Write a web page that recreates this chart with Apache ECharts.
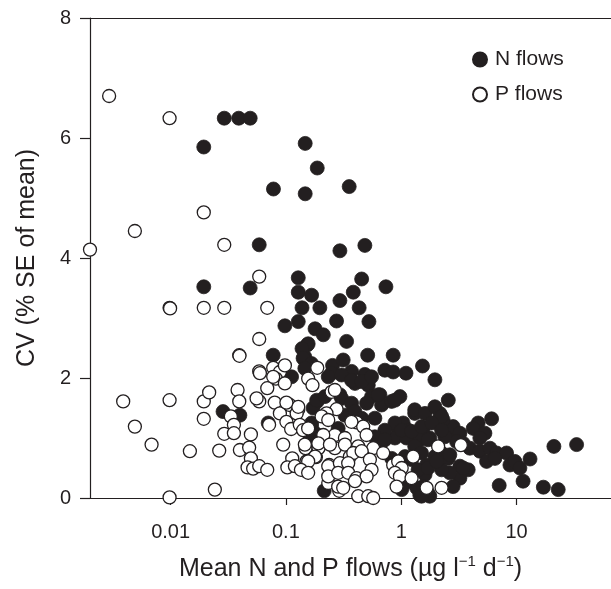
<!DOCTYPE html>
<html><head><meta charset="utf-8">
<script src="https://cdn.jsdelivr.net/npm/echarts@6/dist/echarts.min.js"></script>
<style>html,body{margin:0;padding:0;background:#fff}#c{width:611px;height:589px}</style>
</head><body><div id="c"></div>
<script>
const xTickValues = [0.01, 0.1, 1, 10];
const yTickValues = [0, 2, 4, 6, 8];
const seriesNames = ['N flows', 'P flows'];
const xAxisTitle = 'Mean N and P flows (µg l{sup|−1} d{sup|−1})';
const yAxisTitle = 'CV (% SE of mean)';

// [mean flow, CV]
const nFlows = [
[0.0194,5.85],[0.0292,6.33],[0.039,6.33],[0.049,6.33],[0.147,5.91],[0.187,5.50],[0.078,5.15],[0.147,5.07],[0.0587,4.22],[0.294,4.12],[0.354,5.19],[0.484,4.21],
[0.0194,3.52],[0.049,3.50],[0.128,3.67],[0.128,3.43],[0.167,3.38],[0.197,3.17],[0.138,3.17],[0.294,3.29],[0.275,2.95],[0.098,2.87],[0.128,2.94],[0.179,2.82],[0.211,2.72],[0.153,2.55],[0.146,2.35],[0.0776,2.38],[0.254,2.21],[0.187,1.61],[0.172,1.50],[0.0285,1.44],[0.0399,1.38],[0.0702,1.25],[0.167,1.19],[0.215,0.12],
[0.454,3.65],[0.737,3.52],[0.384,3.43],[0.432,3.17],[0.525,2.94],[0.336,2.61],[0.156,2.57],[0.138,2.49],[0.512,2.38],[0.141,2.33],[0.167,2.24],[0.146,2.16],[0.314,2.30],[0.371,2.11],[0.249,2.08],[0.852,2.38],[0.722,2.13],[0.852,2.10],[0.484,2.06],[1.10,2.08],[1.53,2.20],[1.96,1.97],
[0.397,1.91],[0.518,1.88],[0.294,1.72],[0.553,1.69],[0.654,1.72],[0.676,1.55],[0.826,1.61],[0.975,1.69],[2.56,1.63],[1.31,1.41],[2.17,1.41],[2.03,1.27],[6.08,1.32],[4.65,1.25],[4.21,1.16],[5.32,1.08],[0.912,1.19],[1.04,1.25],[1.15,1.13],[0.882,1.00],[1.11,1.00],[1.55,1.16],[1.45,0.97],[1.77,1.00],[2.56,1.08],[2.82,1.19],[3.23,1.08],[3.02,0.94],[3.45,0.91],[3.94,0.83],[4.81,0.78],[5.88,0.83],[6.72,0.75],[5.50,0.61],[8.20,0.75],[8.77,0.55],[9.68,0.61],[10.7,0.50],[13.1,0.65],[11.4,0.28],[7.08,0.21],[17.1,0.18],[23.0,0.14],[21.1,0.86],[33.2,0.89],[1.66,0.55],[1.61,0.39],[1.45,0.05],[1.77,0.03],[1.01,0.14],[2.31,1.30],[2.39,1.02],[2.56,0.66],[3.23,0.53],[3.81,0.47],[3.23,0.33],[2.64,0.42],[2.82,0.19],[6.50,0.66],
[0.233,2.02],[0.304,2.05],[0.371,1.96],[0.454,1.94],[0.553,2.02],[0.185,1.63],[0.218,1.69],[0.304,1.66],[0.371,1.58],[0.501,1.58],[0.632,1.72],[0.882,1.63],[1.31,1.47],[1.61,1.41],[1.96,1.52],[2.24,1.36],[0.325,1.38],[0.397,1.44],[0.454,1.33],[0.591,1.33],[0.167,1.25],[0.179,1.08],[0.161,0.97],[0.284,1.16],[0.882,1.25],[1.01,1.13],[1.23,1.11],[1.50,1.19],[1.84,1.25],[0.722,1.13],[0.591,1.02],[2.24,1.13],[2.24,0.75],[1.71,0.97],[1.96,0.69],[1.31,0.86],[1.50,0.75],[1.23,0.64],[0.826,0.66],[1.08,0.69],[1.40,0.47],[1.71,0.50],[2.24,0.47],[1.36,0.17],[1.55,0.19],[1.71,0.08],[1.50,0.03],[1.08,0.25],[0.654,0.86],[0.722,0.97],[0.112,2.02],[2.03,0.61],[2.64,0.72],[3.45,0.50],[4.81,1.00]
];

const pFlows = [
[0.00293,6.70],[0.0098,6.33],[0.0194,4.76],[0.0049,4.45],[0.002,4.14],[0.0292,4.22],[0.0587,3.69],[0.0098,3.17],[0.0099,3.16],[0.0194,3.17],[0.0292,3.17],[0.0689,3.17],[0.0587,2.65],[0.0394,2.38],[0.0396,2.37],[0.0587,2.11],[0.0776,2.17],[0.0887,2.10],[0.098,2.21],[0.0818,1.99],[0.098,1.91],[0.187,2.17],[0.156,1.99],[0.170,1.88],[0.249,1.77],
[0.00388,1.61],[0.0098,1.63],[0.0194,1.61],[0.0216,1.76],[0.0194,1.32],[0.0381,1.80],[0.0394,1.61],[0.0333,1.36],[0.0354,1.22],[0.0587,1.61],[0.0689,1.83],[0.080,1.59],[0.0887,1.41],[0.108,1.55],[0.128,1.47],[0.101,1.27],[0.111,1.15],[0.0715,1.22],
[0.0049,1.19],[0.00684,0.89],[0.0147,0.78],[0.0264,0.79],[0.0292,1.07],[0.0354,1.08],[0.0399,0.80],[0.0497,1.06],[0.048,0.84],[0.0497,0.66],[0.0465,0.51],[0.052,0.49],[0.0587,0.53],[0.0689,0.47],[0.0948,0.89],[0.1135,0.66],[0.103,0.51],[0.1197,0.53],[0.148,0.45],[0.151,0.61],[0.148,0.83],[0.182,0.68],[0.192,0.83],[0.237,0.55],[0.233,0.25],[0.266,0.83],[0.266,1.05],[0.211,1.05],[0.0242,0.14],[0.0098,0.01],[0.29,0.12],[0.0595,2.08],[0.0557,1.66],[0.124,1.41],
[0.266,1.80],[0.128,1.52],[0.275,1.48],[0.225,1.41],[0.204,1.36],[0.233,1.30],[0.132,1.22],[0.141,1.13],[0.156,1.16],[0.410,1.26],[0.468,1.19],[0.501,1.05],[0.325,1.00],[0.325,0.89],[0.146,0.89],[0.191,0.91],[0.241,0.89],[0.424,0.86],[0.572,0.83],[0.698,0.75],[0.179,0.69],[0.156,0.61],[0.233,0.53],[0.294,0.58],[0.359,0.69],[0.384,0.75],[0.347,0.58],[0.454,0.78],[0.535,0.64],[0.553,0.47],[0.135,0.47],[0.156,0.42],[0.233,0.36],[0.284,0.42],[0.347,0.42],[0.410,0.33],[0.501,0.36],[0.284,0.19],[0.314,0.17],[0.397,0.28],[0.424,0.03],[0.518,0.03],[0.572,0.0],
[0.852,0.55],[0.942,0.61],[1.01,0.50],[0.882,0.42],[0.975,0.36],[1.23,0.33],[0.912,0.19],[2.09,0.86],[3.29,0.88],[1.27,0.69],[2.24,0.17],[1.66,0.17],[0.37,1.27],[0.0776,2.02],[0.101,1.59]
];

const ink = '#231f20';
const font = '"Liberation Sans", Arial, Helvetica, sans-serif';
const fmt = v => String(Number(Number(v).toPrecision(3)));

const chart = echarts.init(document.getElementById('c'), null, {renderer: 'canvas'});
chart.setOption({
  animation: false,
  grid: {left: 90, right: 0, top: 18, bottom: 89, containLabel: false},
  legend: {
    orient: 'vertical', left: 467, top: 44,
    itemWidth: 14, itemHeight: 14, itemGap: 14,
    textStyle: {fontSize: 21, fontFamily: font, color: ink, lineHeight: 20, padding: [0, 0, 0, 3]},
    data: seriesNames.map(n => ({name: n, icon: 'circle'}))
  },
  xAxis: [{
    type: 'log', logBase: 10, min: 0.002, max: 66, position: 'bottom',
    axisLine: {show: true, onZero: false, lineStyle: {color: ink, width: 1.2}},
    axisTick: {show: true, inside: false, length: 7, lineStyle: {color: ink, width: 1.2}, customValues: xTickValues},
    axisLabel: {customValues: xTickValues, margin: 24, fontSize: 20, fontFamily: font, color: ink, formatter: fmt},
    minorTick: {show: false}, splitLine: {show: false},
    name: xAxisTitle, nameLocation: 'middle', nameGap: 56,
    nameTextStyle: {fontSize: 25, fontFamily: font, color: ink, lineHeight: 30,
      rich: {sup: {fontSize: 15, fontFamily: font, color: ink, lineHeight: 15, verticalAlign: 'top'}}}
  }, {
    type: 'log', logBase: 10, min: 0.002, max: 66, position: 'top',
    axisLine: {show: true, onZero: false, lineStyle: {color: ink, width: 1.2}},
    axisTick: {show: false}, axisLabel: {show: false}, splitLine: {show: false}
  }],
  yAxis: {
    type: 'value', min: 0, max: 8, interval: 2,
    axisLine: {show: true, onZero: false, lineStyle: {color: ink, width: 1.2}},
    axisTick: {show: true, inside: false, length: 10, lineStyle: {color: ink, width: 1.2}},
    axisLabel: {margin: 19, fontSize: 20, fontFamily: font, color: ink,
      formatter: v => yTickValues.includes(v) ? String(v) : ''},
    splitLine: {show: false},
    name: yAxisTitle, nameLocation: 'middle', nameGap: 50,
    nameTextStyle: {fontSize: 25, fontFamily: font, color: ink}
  },
  series: [{
    name: seriesNames[0], type: 'scatter', xAxisIndex: 0, clip: false,
    symbol: 'circle', symbolSize: 14,
    itemStyle: {color: ink, borderColor: ink, borderWidth: 0.8, opacity: 1},
    emphasis: {disabled: true},
    data: nFlows
  }, {
    name: seriesNames[1], type: 'scatter', xAxisIndex: 0, clip: false,
    symbol: 'circle', symbolSize: 13,
    itemStyle: {color: '#ffffff', borderColor: ink, borderWidth: 1.3, opacity: 1},
    emphasis: {disabled: true},
    data: pFlows
  }]
});
</script>
</body></html>
